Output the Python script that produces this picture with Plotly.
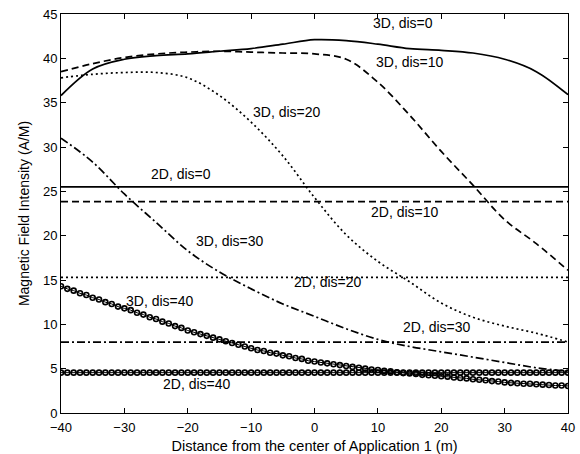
import plotly.graph_objects as go

x5 = [-40, -35, -30, -25, -20, -15, -10, -5, 0, 5, 10, 15, 20, 25, 30, 35, 40]
d3_0 = [35.8, 38.8, 39.9, 40.3, 40.5, 40.8, 41.1, 41.6, 42.1, 42.0, 41.6, 41.1, 40.9, 40.6, 39.9, 38.5, 35.9]
d3_10 = [38.5, 39.4, 40.1, 40.5, 40.7, 40.8, 40.7, 40.6, 40.5, 39.9, 37.3, 33.6, 29.5, 25.7, 21.8, 19.1, 16.1]
d3_20 = [37.8, 38.2, 38.4, 38.4, 37.8, 35.8, 32.8, 29.0, 24.3, 20.1, 17.1, 14.8, 12.4, 10.8, 9.8, 9.0, 8.0]
d3_30 = [31.0, 28.3, 24.7, 21.5, 18.3, 15.9, 14.0, 12.3, 10.9, 9.5, 8.3, 7.5, 6.9, 6.3, 5.7, 5.1, 4.7]

x1 = list(range(-40, 41))
d3_40 = [14.3, 14.0, 13.8, 13.5, 13.3, 13.0,
         12.8, 12.5, 12.3, 12.0, 11.8,
         11.6, 11.3, 11.1, 10.8, 10.6,
         10.3, 10.1, 9.8, 9.6, 9.3,
         9.1, 8.9, 8.7, 8.5, 8.3,
         8.1, 7.9, 7.7, 7.5, 7.3,
         7.1, 7.0, 6.8, 6.7, 6.5,
         6.4, 6.2, 6.1, 5.9, 5.8,
         5.7, 5.6, 5.5, 5.4, 5.3,
         5.2, 5.1, 5.0, 4.9, 4.85,
         4.75, 4.7, 4.6, 4.5, 4.45,
         4.4, 4.3, 4.25, 4.2, 4.15,
         4.1, 4.0, 3.95, 3.9, 3.8,
         3.75, 3.7, 3.6, 3.55, 3.45,
         3.4, 3.35, 3.3, 3.3, 3.25,
         3.2, 3.15, 3.1, 3.1, 3.05]
d2_40_val = 4.55
d2_vals = {"2D, dis=0": 25.5, "2D, dis=10": 23.85, "2D, dis=20": 15.3, "2D, dis=30": 8.0}

labels = ["3D, dis=0", "3D, dis=10", "3D, dis=20", "2D, dis=0", "2D, dis=10",
          "3D, dis=30", "2D, dis=20", "3D, dis=40", "2D, dis=30", "2D, dis=40"]
label_x = [13.9, 15.0, -4.3, -21.0, 14.3, -13.3, 2.2, -24.4, 19.3, -18.6]
label_y = [44.0, 39.6, 33.95, 26.9, 22.7, 19.4, 14.8, 12.65, 9.7, 3.3]

xticks = [-40, -30, -20, -10, 0, 10, 20, 30, 40]
yticks = [0, 5, 10, 15, 20, 25, 30, 35, 40, 45]

fig = go.Figure()
W = 1.7
dashes = {"solid": "solid", "dash": "7px,4px", "dot": "2px,3px", "dashdot": "8px,3px,2px,3px"}

for ys, d in [(d3_0, "solid"), (d3_10, "dash"), (d3_20, "dot"), (d3_30, "dashdot")]:
    fig.add_trace(go.Scatter(x=x5, y=ys, mode="lines", line=dict(color="black", width=W, dash=dashes[d], shape="spline"), showlegend=False))

for (name, v), d in zip(d2_vals.items(), ["solid", "dash", "dot", "dashdot"]):
    fig.add_trace(go.Scatter(x=[-40, 40], y=[v, v], mode="lines", line=dict(color="black", width=W, dash=dashes[d]), showlegend=False))

fig.add_trace(go.Scatter(x=x1, y=d3_40, mode="lines+markers", line=dict(color="black", width=1),
                         marker=dict(symbol="circle-open", size=5, color="black", line=dict(width=1.6)), showlegend=False))
fig.add_trace(go.Scatter(x=x1, y=[d2_40_val] * len(x1), mode="lines+markers", line=dict(color="black", width=1),
                         marker=dict(symbol="circle-open", size=5, color="black", line=dict(width=1.6)), showlegend=False))

for t, xx, yy in zip(labels, label_x, label_y):
    fig.add_annotation(x=xx, y=yy, text=t, showarrow=False, font=dict(size=14, color="black"),
                       xanchor="center", yanchor="middle", bgcolor="rgba(0,0,0,0)")

axis_common = dict(showline=True, linecolor="black", linewidth=1, mirror="allticks", ticks="inside",
                   ticklen=5, tickcolor="black", showgrid=False, zeroline=False,
                   tickfont=dict(size=13, color="black"))
fig.update_xaxes(range=[-40, 40], tickvals=xticks, ticklabelstandoff=2,
                 title=dict(text="Distance from the center of Application 1 (m)", font=dict(size=14.5, color="black"), standoff=8), **axis_common)
fig.update_yaxes(range=[0, 45], tickvals=yticks,
                 title=dict(text="Magnetic Field Intensity (A/M)", font=dict(size=14, color="black"), standoff=10), **axis_common)

fig.update_layout(width=580, height=454, margin=dict(l=61, r=12, t=14, b=41, autoexpand=False),
                  paper_bgcolor="white", plot_bgcolor="white",
                  font=dict(family="Liberation Sans, Arial, sans-serif", color="black"))
fig.write_html("out.html")
